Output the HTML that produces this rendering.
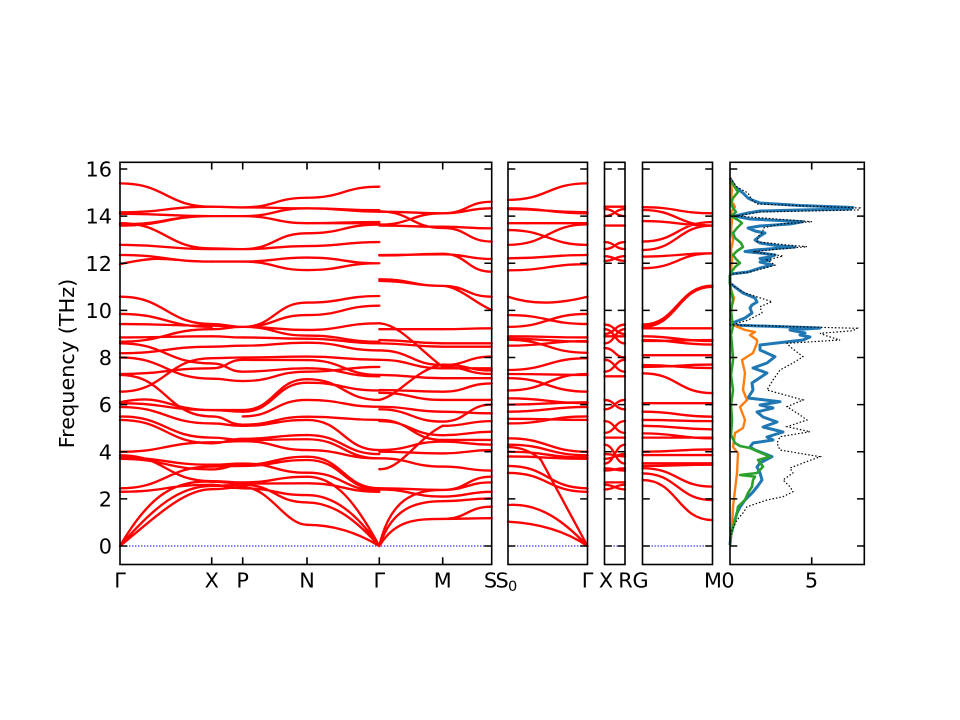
<!DOCTYPE html>
<html><head><meta charset="utf-8"><style>
html,body{margin:0;padding:0;background:#fff;}
svg{display:block;font-family:"DejaVu Sans","Liberation Sans",sans-serif;}
.b path{fill:none;stroke:#ff0000;stroke-width:2.35px;vector-effect:non-scaling-stroke;stroke-linecap:round;}
.fr{fill:none;stroke:#000;stroke-width:1.6;}
.tk{fill:none;stroke:#000;stroke-width:1.6;}
.zl{stroke:#0000ff;stroke-width:1.1;stroke-dasharray:1.4 1.6;}
text{font-size:20.8px;fill:#000;}
</style></head><body>
<svg width="960" height="720" viewBox="0 0 960 720" xmlns="http://www.w3.org/2000/svg">
<rect width="960" height="720" fill="#fff"/>
<defs>
<path id="yt" d="M0 546h7.3M0 498.88h7.3M0 451.75h7.3M0 404.63h7.3M0 357.5h7.3M0 310.38h7.3M0 263.25h7.3M0 216.13h7.3M0 169h7.3"/>
</defs>

<!-- zero lines -->
<path class="zl" d="M120 546H491.7M508 546H587.5M604.5 546H625M642.5 546H712.5"/>

<g class="b" transform="matrix(1 0 0 -23.5625 0 546)">
<!-- Gamma - X -->
<path d="M120 0C150 2.2 175 2.8 211.7 2.73M120 0C155 1.7 180 2.55 211.7 2.55M120 0C160 1.4 185 2.41 211.7 2.41M120 2.3C166 2.3 166 2.6 211.7 2.6M120 2.45C166 2.45 166 3.37 211.7 3.37M120 3.7C166 3.7 166 3.25 211.7 3.25M120 3.75C166 3.75 166 3.45 211.7 3.45M120 3.85C166 3.85 166 2.75 211.7 2.75M120 4C166 4 166 4.4 211.7 4.4M120 5.35C166 5.35 166 4.36 211.7 4.36M120 5.5C166 5.5 166 4.6 211.7 4.6M120 5.9C166 5.9 166 5.2 211.7 5.2M120 6.06C166 6.06 166 5.77 211.7 5.77M120 6.1C166 6.5 166 5.77 211.7 5.77M120 6.55C166 6.55 166 7.97 211.7 7.97M120 7.26C166 7.26 166 5.5 211.7 5.5M120 7.3C166 7.3 166 7.54 211.7 7.54M120 8C166 8 166 7.1 211.7 7.1M120 8.18C166 8.18 166 8.46 211.7 8.46M120 8.6C166 8.6 166 7.75 211.7 7.75M120 8.67C166 8.67 166 9.2 211.7 9.2M120 8.85C166 8.85 166 8.9 211.7 8.9M120 9.42C166 9.42 166 9.35 211.7 9.35M120 9.85C166 9.85 166 9.3 211.7 9.3M120 10.58C166 10.58 166 9.42 211.7 9.42M120 11.96C166 12.4 166 12.07 211.7 12.07M120 12.35C166 12.35 166 12.07 211.7 12.07M120 12.78C166 12.78 166 12.6 211.7 12.6M120 13.6C166 13.6 166 14 211.7 14M120 13.7C166 13.7 166 12.63 211.7 12.63M120 13.65C166 13.65 166 14 211.7 14M120 14.1C166 14.1 166 14 211.7 14M120 14.16C166 14.16 166 14.4 211.7 14.4M120 15.39C166 15.39 166 14.4 211.7 14.4"/>
<!-- X - P -->
<path d="M211.7 2.41C227.2 2.41 227.2 2.5 242.7 2.5M211.7 2.55C227.2 2.55 227.2 2.6 242.7 2.6M211.7 2.6C227.2 2.6 227.2 2.45 242.7 2.45M211.7 2.73C227.2 2.73 227.2 2.65 242.7 2.65M211.7 2.75C227.2 2.75 227.2 2.7 242.7 2.7M211.7 3.25C227.2 3.25 227.2 3.45 242.7 3.45M211.7 3.37C227.2 3.37 227.2 3.4 242.7 3.4M211.7 3.45C227.2 3.45 227.2 3.5 242.7 3.5M211.7 4.36C227.2 4.36 227.2 4.55 242.7 4.55M211.7 4.4C227.2 4.4 227.2 4.45 242.7 4.45M211.7 4.6C227.2 4.6 227.2 4.5 242.7 4.5M211.7 5.2C227.2 5.2 227.2 5.1 242.7 5.1M211.7 5.5C227.2 5.5 227.2 5.15 242.7 5.15M211.7 5.77C227.2 5.77 227.2 5.77 242.7 5.77M211.7 5.77C227.2 5.77 227.2 5.7 242.7 5.7M211.7 7.1C227.2 7.1 227.2 7 242.7 7M211.7 7.54C227.2 7.54 227.2 7.9 242.7 7.9M211.7 7.75C227.2 7.75 227.2 7.4 242.7 7.4M211.7 7.97C227.2 7.97 227.2 8 242.7 8M211.7 8.46C227.2 8.46 227.2 8.5 242.7 8.5M211.7 8.9C227.2 8.9 227.2 8.85 242.7 8.85M211.7 9.2C227.2 9.2 227.2 9.3 242.7 9.3M211.7 9.35C227.2 9.35 227.2 9.3 242.7 9.3M211.7 9.42C227.2 9.42 227.2 9.3 242.7 9.3M211.7 12.07H242.7M211.7 12.6H242.7M211.7 12.63C227.2 12.63 227.2 12.6 242.7 12.6M211.7 14H242.7M211.7 14.4C227.2 14.4 227.2 14.37 242.7 14.37"/>
<!-- P - N -->
<path d="M242.7 14.37C274.9 14.37 274.9 14.78 307 14.78M242.7 14.37C274.9 14.37 274.9 14.33 307 14.33M242.7 14C274.9 14 274.9 14.33 307 14.33M242.7 14C274.9 14 274.9 13.7 307 13.7M242.7 14C274.9 14 274.9 13.7 307 13.7M242.7 12.6C274.9 12.6 274.9 13.27 307 13.27M242.7 12.6C274.9 12.6 274.9 12.73 307 12.73M242.7 12.07C274.9 12.07 274.9 12.24 307 12.24M242.7 12.07C274.9 12.07 274.9 11.71 307 11.71M242.7 2.5C270 2.5 285 0.9 307 0.9M242.7 2.6C274.9 2.6 274.9 1.85 307 1.85M242.7 2.45C274.9 2.45 274.9 2.16 307 2.16M242.7 2.65C274.9 2.65 274.9 2.66 307 2.66M242.7 2.7C274.9 2.7 274.9 2.94 307 2.94M242.7 3.5C274.9 3.5 274.9 3.11 307 3.11M242.7 3.4C274.9 3.4 274.9 3.65 307 3.65M242.7 3.45C274.9 3.45 274.9 3.79 307 3.79M242.7 4.45C274.9 4.45 274.9 4.07 307 4.07M242.7 4.5C274.9 4.5 274.9 4.53 307 4.53M242.7 4.55C274.9 4.55 274.9 4.71 307 4.71M242.7 5.1C274.9 5.1 274.9 5.35 307 5.35M242.7 5.15C274.9 5.15 274.9 5.49 307 5.49M242.7 5.5C274.9 5.5 274.9 6.2 307 6.2M242.7 5.7C274.9 5.7 274.9 6.93 307 6.93M242.7 5.77C274.9 5.77 274.9 7.08 307 7.08M242.7 7C274.9 7 274.9 7.4 307 7.4M242.7 7.4C274.9 7.4 274.9 7.54 307 7.54M242.7 7.9C274.9 7.9 274.9 7.89 307 7.89M242.7 8C274.9 8 274.9 8.04 307 8.04M242.7 8.5C274.9 8.5 274.9 8.63 307 8.63M242.7 8.85C274.9 8.85 274.9 8.8 307 8.8M242.7 9.3C274.9 9.3 274.9 8.93 307 8.93M242.7 9.3C274.9 9.3 274.9 9.17 307 9.17M242.7 9.3C274.9 9.3 274.9 9.8 307 9.8M242.7 9.3C274.9 9.3 274.9 10.33 307 10.33"/>
<!-- N - Gamma -->
<path d="M307 14.78C343.2 14.78 343.2 15.25 379.3 15.25M307 14.33C343.2 14.33 343.2 14.19 379.3 14.19M307 14.33C343.2 14.33 343.2 14.25 379.3 14.25M307 13.7C343.2 13.7 343.2 13.7 379.3 13.7M307 13.7C343.2 13.7 343.2 13.75 379.3 13.75M307 13.27C343.2 13.27 343.2 13.64 379.3 13.64M307 12.73C343.2 12.73 343.2 12.9 379.3 12.9M307 12.24C343.2 12.24 343.2 12 379.3 12M307 11.71C343.2 11.71 343.2 12 379.3 12M307 10.33C343.2 10.33 343.2 10.61 379.3 10.61M307 9.8C343.2 9.8 343.2 10.2 379.3 10.2M307 9.17C343.2 9.17 343.2 9.45 379.3 9.45M307 8.93C343.2 8.93 343.2 8.67 379.3 8.67M307 8.8C343.2 8.8 343.2 8.6 379.3 8.6M307 8.63C343.2 8.63 343.2 8.3 379.3 8.3M307 8.04C343.2 8.04 343.2 7.9 379.3 7.9M307 7.89C343.2 7.89 343.2 7.26 379.3 7.26M307 7.54C343.2 7.54 343.2 7.2 379.3 7.2M307 7.4C343.2 7.4 343.2 7.6 379.3 7.6M307 7.08C343.2 7.08 343.2 6.2 379.3 6.2M307 6.93C343.2 6.93 343.2 6.6 379.3 6.6M307 6.2C343.2 6.2 343.2 5.91 379.3 5.91M307 5.49C343.2 5.49 343.2 5.35 379.3 5.35M307 5.35C343.2 5.35 343.2 4.07 379.3 4.07M307 4.71C343.2 4.71 343.2 3.9 379.3 3.9M307 4.53C343.2 4.53 343.2 3.72 379.3 3.72M307 4.07C343.2 4.07 343.2 3.72 379.3 3.72M307 3.79C343.2 3.79 343.2 2.45 379.3 2.45M307 3.65C343.2 3.65 343.2 2.4 379.3 2.4M307 3.11C343.2 3.11 343.2 2.35 379.3 2.35M307 2.66C343.2 2.66 343.2 2.3 379.3 2.3M307 2.94C335 2.94 355 1.9 379.3 0M307 1.85C335 1.85 358 1 379.3 0M307 0.9C335 0.9 360 0.5 379.3 0M307 2.16C335 2.16 358 1.3 379.3 0"/>
<!-- Gamma - M -->
<path d="M379.3 14.19C411 14.19 411 14.12 442.7 14.12M379.3 14.2C411 14.2 411 13.5 442.7 13.5M379.3 13.64C411 13.64 411 14.12 442.7 14.12M379.3 13.6C411 13.6 411 13.55 442.7 13.55M379.3 12.35C411 12.35 411 12.38 442.7 12.38M379.3 12.33C411 12.33 411 12.4 442.7 12.4M379.3 11.32C411 11.32 411 11.04 442.7 11.04M379.3 11.25C411 11.25 411 11.04 442.7 11.04M379.3 9.2C411 9.2 411 9.2 442.7 9.2M379.3 9.45C400 9.4 420 8.3 442.7 7.6M379.3 8.74C411 8.74 411 8.6 442.7 8.6M379.3 8.6C411 8.6 411 8.46 442.7 8.46M379.3 8.3C411 8.3 411 7.68 442.7 7.68M379.3 7.9C411 7.9 411 7.54 442.7 7.54M379.3 6.2C400 6.4 415 7.5 442.7 7.7M379.3 7.26C411 7.26 411 7.12 442.7 7.12M379.3 6.62C411 6.62 411 6.55 442.7 6.55M379.3 6.5C411 6.5 411 6.2 442.7 6.2M379.3 5.91C411 5.91 411 5.7 442.7 5.7M379.3 5.8C411 5.8 411 5.28 442.7 5.28M379.3 5.35C411 5.35 411 4.5 442.7 4.5M379.3 5.3C411 5.3 411 4.7 442.7 4.7M379.3 4.07C411 4.07 411 4.43 442.7 4.43M379.3 4C411 4 411 3.93 442.7 3.93M379.3 3.72C411 3.72 411 3.37 442.7 3.37M379.3 3.26C400 3.2 418 4.6 442.7 5.1M379.3 2.45C411 2.45 411 2.38 442.7 2.38M379.3 2.4C411 2.4 411 2.1 442.7 2.1M379.3 0C395 1.1 415 1.15 442.7 1.15M379.3 0C392 1.6 415 1.9 442.7 1.9M379.3 0C390 2 415 2.4 442.7 2.38"/>
<!-- M - S -->
<path d="M442.7 14.12C467.2 14.12 467.2 14.61 491.7 14.61M442.7 14.12C467.2 14.12 467.2 14.33 491.7 14.33M442.7 13.5C467.2 13.5 467.2 12.92 491.7 12.92M442.7 13.55C467.2 13.55 467.2 13.48 491.7 13.48M442.7 12.38C467.2 12.38 467.2 12.18 491.7 12.18M442.7 12.4C467.2 12.4 467.2 11.64 491.7 11.64M442.7 11.04C467.2 11.04 467.2 10.58 491.7 10.58M442.7 11.04C460 11 475 10.3 491.7 10.02M442.7 9.2C467.2 9.2 467.2 9.24 491.7 9.24M442.7 7.6C467.2 7.6 467.2 7.3 491.7 7.3M442.7 7.7C467.2 7.7 467.2 7.45 491.7 7.45M442.7 8.6C467.2 8.6 467.2 8.6 491.7 8.6M442.7 8.46C467.2 8.46 467.2 8.46 491.7 8.46M442.7 7.68C467.2 7.68 467.2 8.04 491.7 8.04M442.7 7.54C467.2 7.54 467.2 7.54 491.7 7.54M442.7 7.12C467.2 7.12 467.2 7.12 491.7 7.12M442.7 6.55C467.2 6.55 467.2 6.9 491.7 6.9M442.7 6.2C467.2 6.2 467.2 6.2 491.7 6.2M442.7 5.7C467.2 5.7 467.2 5.63 491.7 5.63M442.7 5.28C467.2 5.28 467.2 6 491.7 6M442.7 5.1C467.2 5.1 467.2 5.3 491.7 5.3M442.7 4.7C467.2 4.7 467.2 4.85 491.7 4.85M442.7 4.5C467.2 4.5 467.2 4.5 491.7 4.5M442.7 4.43C467.2 4.43 467.2 4.3 491.7 4.3M442.7 3.93C467.2 3.93 467.2 4.07 491.7 4.07M442.7 3.37C467.2 3.37 467.2 3.2 491.7 3.2M442.7 2.38C467.2 2.38 467.2 2.94 491.7 2.94M442.7 2.38C467.2 2.38 467.2 2.7 491.7 2.7M442.7 2.1C467.2 2.1 467.2 2.3 491.7 2.3M442.7 1.9C467.2 1.9 467.2 2.02 491.7 2.02M442.7 1.15C467.2 1.15 467.2 1.67 491.7 1.67M442.7 1.15C467.2 1.15 467.2 1.18 491.7 1.18"/>
<!-- S0 - Gamma -->
<path d="M508 14.69C547.8 14.69 547.8 15.39 587.5 15.39M508 14.33C547.8 14.33 547.8 14.12 587.5 14.12M508 14.3C547.8 14.3 547.8 14.16 587.5 14.16M508 13.7C547.8 13.7 547.8 13.7 587.5 13.7M508 13.41C547.8 13.41 547.8 12.78 587.5 12.78M508 12.78C547.8 12.78 547.8 13.65 587.5 13.65M508 12.21C547.8 12.21 547.8 12.35 587.5 12.35M508 11.7C547.8 11.7 547.8 11.96 587.5 11.96M508 10.58C535 10.2 560 10.3 587.5 10.58M508 9.8C547.8 9.8 547.8 9.42 587.5 9.42M508 9.3C547.8 9.3 547.8 9.85 587.5 9.85M508 8.9C547.8 8.9 547.8 8.85 587.5 8.85M508 8.8C547.8 8.8 547.8 8.67 587.5 8.67M508 8.75C547.8 8.75 547.8 8.2 587.5 8.2M508 8.5C547.8 8.5 547.8 8.7 587.5 8.7M508 7.47C547.8 7.47 547.8 7.97 587.5 7.97M508 7.3C547.8 7.3 547.8 7.26 587.5 7.26M508 7.12C547.8 7.12 547.8 6.55 587.5 6.55M508 6.6C547.8 6.6 547.8 7.3 587.5 7.3M508 6.27C547.8 6.27 547.8 6.06 587.5 6.06M508 6C547.8 6 547.8 6.1 587.5 6.1M508 5.7C547.8 5.7 547.8 5.9 587.5 5.9M508 5.4C547.8 5.4 547.8 5.35 587.5 5.35M508 5.2C547.8 5.2 547.8 5.5 587.5 5.5M508 4.57C547.8 4.57 547.8 4 587.5 4M508 4.3C547.8 4.3 547.8 3.85 587.5 3.85M508 4C547.8 4 547.8 3.75 587.5 3.75M508 3.8C547.8 3.8 547.8 3.7 587.5 3.7M508 3.4C547.8 3.4 547.8 2.45 587.5 2.45M508 3.1C547.8 3.1 547.8 2.3 587.5 2.3M508 1.74C540 1.85 565 1 587.5 0M508 1.03C545 0.95 570 0.5 587.5 0M508 4.2C522 4.2 532 4 541 3.65L587.5 0"/>
<!-- X - R -->
<path d="M604.5 14.4H625M604.5 14C614.8 14 614.8 14.3 625 14.3M604.5 14.3C614.8 14.3 614.8 14 625 14M604.5 13.6H625M604.5 12.6C614.8 12.6 614.8 12.9 625 12.9M604.5 12.9C614.8 12.9 614.8 12.6 625 12.6M604.5 12.1C614.8 12.1 614.8 12.3 625 12.3M604.5 12.3C614.8 12.3 614.8 12.1 625 12.1M604.5 9.4C614.8 9.4 614.8 9 625 9M604.5 9C614.8 9 614.8 9.4 625 9.4M604.5 9.2C614.8 9.2 614.8 8.6 625 8.6M604.5 8.6C614.8 8.6 614.8 9.2 625 9.2M604.5 8.9H625M604.5 8.4C614.8 8.4 614.8 8 625 8M604.5 7.9C614.8 7.9 614.8 7.4 625 7.4M604.5 7.4C614.8 7.4 614.8 7.9 625 7.9M604.5 7.2H625M604.5 6.2C614.8 6.2 614.8 5.8 625 5.8M604.5 5.8C614.8 5.8 614.8 6.2 625 6.2M604.5 5.3C614.8 5.3 614.8 4.8 625 4.8M604.5 4.8C614.8 4.8 614.8 5.3 625 5.3M604.5 4.6H625M604.5 4.3C614.8 4.3 614.8 3.5 625 3.5M604.5 3.5C614.8 3.5 614.8 4.3 625 4.3M604.5 3.3C614.8 3.3 614.8 3.2 625 3.2M604.5 3.2C614.8 3.2 614.8 3.3 625 3.3M604.5 2.6C614.8 2.6 614.8 2.4 625 2.4M604.5 2.4C614.8 2.4 614.8 2.6 625 2.6M604.5 2.7H625M604.5 3.9C614.8 3.9 614.8 3.8 625 3.8M604.5 3.7C614.8 3.7 614.8 3.9 625 3.9"/>
<!-- G - M -->
<path d="M642.5 14.38C677.5 14.38 677.5 14.12 712.5 14.12M642.5 14.26C677.5 14.26 677.5 13.6 712.5 13.6M642.5 13.79C677.5 13.79 677.5 13.6 712.5 13.6M642.5 12.92C677.5 12.92 677.5 13.75 712.5 13.75M642.5 12.56C677.5 12.56 677.5 13.6 712.5 13.6M642.5 12.28C677.5 12.28 677.5 12.42 712.5 12.42M642.5 11.79C677.5 11.79 677.5 12.42 712.5 12.42M642.5 9.4C677.5 9.4 677.5 11.05 712.5 11.05M642.5 9.3C677.5 9.3 677.5 11 712.5 11M642.5 9.24H712.5M642.5 8.9C677.5 8.9 677.5 8.7 712.5 8.7M642.5 8.74C677.5 8.74 677.5 8.55 712.5 8.55M642.5 8.7C677.5 8.7 677.5 8.74 712.5 8.74M642.5 8.1H712.5M642.5 7.68C677.5 7.68 677.5 7.55 712.5 7.55M642.5 7.6C677.5 7.6 677.5 7.7 712.5 7.7M642.5 7.33C677.5 7.33 677.5 6.49 712.5 6.49M642.5 6.06H712.5M642.5 5.7C677.5 5.7 677.5 5.49 712.5 5.49M642.5 5.35C677.5 5.35 677.5 5.3 712.5 5.3M642.5 5.1C677.5 5.1 677.5 4.95 712.5 4.95M642.5 4.78C677.5 4.78 677.5 4.57 712.5 4.57M642.5 4.6H712.5M642.5 4C677.5 4 677.5 4.1 712.5 4.1M642.5 3.86H712.5M642.5 3.51H712.5M642.5 3.4C677.5 3.4 677.5 3.45 712.5 3.45M642.5 3.3C677.5 3.3 677.5 2.52 712.5 2.52M642.5 3.08C677.5 3.08 677.5 1.95 712.5 1.95M642.5 2.8C677.5 2.8 677.5 1.1 712.5 1.1"/>
</g>

<!-- DOS -->
<polyline fill="none" stroke="#1f77b4" stroke-width="3" stroke-linejoin="round" points="730,178 735,186.7 743,193 748,198 752,200 760,203 800,205.5 853,207.5 850,209 800,210 760,211 748,213 735,216 750,219 803,221.7 790,224 760,226 748,228 755,231 765,233 760,236 755,240 760,243 780,246 795,247 775,248.5 755,250 745,251.5 760,253 775,255 770,257 760,258.5 770,260 760,262 772,265 760,268 748,272 731,274 730,276 730,283 735,287 743,293 755,298 757,302 752,305 750,308 752,313 745,318 735,322 731,325 820,328 790,330 805,333 800,335 810,337 803,340 760,345 760,350 775,356.7 767,363 753,368 767,373 752,383 753,390 748,398 780,401.7 760,405 773,408 757,412 763,417 777,422 763,427 783,432 767,437 773,440 753,443 750,447 755,450 772,456.7 760,463 757,467 760,473 762,480 757,487 752,493 745,500 740,507 737,513 735,520 733,527 731,535 730,545"/>
<polyline fill="none" stroke="#ff7f0e" stroke-width="2.4" stroke-linejoin="round" points="730,182 732,190 731,200 735,207 731,212 732,220 731,230 733,240 731,250 732,260 731,270 730,278 731,290 734,298 732,305 731,315 733,325 745,330 755,332 750,335 757,340 757,343 753,353 742,360 745,373 743,390 747,400 740,407 745,420 743,428 735,433 733,447 738,453 737,473 735,490 733,507 732,527 730,545"/>
<polyline fill="none" stroke="#2ca02c" stroke-width="2.6" stroke-linejoin="round" points="730,180 734,186 738,192 733,198 731,203 733,208 736,212 731,216 738,220 742,223 737,228 733,233 735,238 741,243 743,247 737,251 733,255 736,259 740,263 735,267 732,271 730,275 730,284 731,290 733,300 731,310 732,320 733,326 731,335 732,345 733,360 731,375 733,390 731,405 732,420 731,435 735,443 740,446 750,448 770,456.7 758,460 763,466.7 757,473 740,475 755,476.7 753,480 752,486.7 748,493 745,500 738,506.7 737,513 735,520 733,527 731,533 730,545"/>
<polyline fill="none" stroke="#000" stroke-width="1.2" stroke-dasharray="1.5 2" points="730,178 737,187 748,193 752,200 757,204 860,208 858,210 760,212 737,216 812,221.7 780,224 763,228 763,231.7 758,236.7 757,241.7 787,245 807,246.7 780,249 753,251.7 783,256 767,260 775,265 765,268 750,272 731,274 730,283 735,287 745,293 772,301.7 760,306.7 762,313 748,320 732,325 857,328.3 853,330.7 820,333.3 827,336 840,340 787,343.3 790,346.7 803,356.7 793,363 780,370 773,380 767,390 803,400 787,406.7 797,413 807,420 787,426.7 810,431.7 780,436.7 777,443 780,450 820,456.7 803,463 790,468 793,473 783,480 790,486.7 793,491.7 783,496.7 767,500 747,506.7 743,513 737,520 732,530 730,540"/>

<!-- frames -->
<rect class="fr" x="120" y="162.3" width="371.7" height="402.2"/>
<rect class="fr" x="508" y="162.3" width="79.5" height="402.2"/>
<rect class="fr" x="604.5" y="162.3" width="20.5" height="402.2"/>
<rect class="fr" x="642.5" y="162.3" width="70" height="402.2"/>
<rect class="fr" x="730" y="162.3" width="134.3" height="402.2"/>

<!-- ticks -->
<g class="tk">
<use href="#yt" transform="translate(120 0)"/>
<use href="#yt" transform="translate(491.7 0) scale(-1 1)"/>
<use href="#yt" transform="translate(508 0)"/>
<use href="#yt" transform="translate(587.5 0) scale(-1 1)"/>
<use href="#yt" transform="translate(604.5 0)"/>
<use href="#yt" transform="translate(625 0) scale(-1 1)"/>
<use href="#yt" transform="translate(642.5 0)"/>
<use href="#yt" transform="translate(712.5 0) scale(-1 1)"/>
<use href="#yt" transform="translate(730 0)"/>
<use href="#yt" transform="translate(864.3 0) scale(-1 1)"/>
<path d="M211.7 162.3v7.3M211.7 564.5v-7.3M242.7 162.3v7.3M242.7 564.5v-7.3M307 162.3v7.3M307 564.5v-7.3M379.3 162.3v7.3M379.3 564.5v-7.3M442.7 162.3v7.3M442.7 564.5v-7.3M811.7 162.3v7.3M811.7 564.5v-7.3"/>
</g>

<!-- y tick labels -->
<g text-anchor="end">
<text x="112" y="553.5">0</text>
<text x="112" y="506.4">2</text>
<text x="112" y="459.3">4</text>
<text x="112" y="412.1">6</text>
<text x="112" y="365">8</text>
<text x="112" y="317.9">10</text>
<text x="112" y="270.8">12</text>
<text x="112" y="223.6">14</text>
<text x="112" y="176.5">16</text>
</g>

<!-- x tick labels -->
<g text-anchor="middle">
<text x="120" y="587.5">Γ</text>
<text x="211.7" y="587.5">X</text>
<text x="242.7" y="587.5">P</text>
<text x="307" y="587.5">N</text>
<text x="379.3" y="587.5">Γ</text>
<text x="442.7" y="587.5">M</text>
<text x="490.5" y="587.5">S</text>
<text x="587.5" y="587.5">Γ</text>
<text x="606" y="587.5">X</text>
<text x="625.5" y="587.5">R</text>
<text x="640.5" y="587.5">G</text>
<text x="713" y="587.5">M</text>
<text x="728" y="587.5">0</text>
<text x="811.5" y="587.5">5</text>
</g>
<text x="495.5" y="587.5">S</text>
<text x="508" y="591" style="font-size:14.6px">0</text>

<text transform="translate(74 363.5) rotate(-90)" text-anchor="middle">Frequency (THz)</text>
</svg>
</body></html>
